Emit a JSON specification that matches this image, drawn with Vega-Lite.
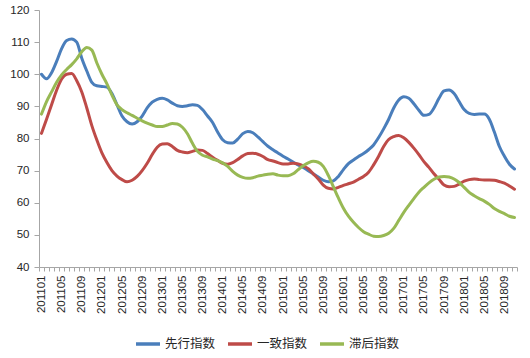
{
  "$schema": "https://vega.github.io/schema/vega-lite/v6.json",
  "width": 478,
  "height": 257,
  "autosize": {"type": "none"},
  "padding": {"left": 39, "top": 10, "right": 13, "bottom": 91},
  "background": "white",
  "data": {"values": [
    {"m":"201101","先行指数":100,"一致指数":81.6,"滞后指数":87.6},
    {"m":"201102","先行指数":98.6,"一致指数":86,"滞后指数":91.5},
    {"m":"201103","先行指数":100.5,"一致指数":90.5,"滞后指数":94.5},
    {"m":"201104","先行指数":104,"一致指数":95,"滞后指数":97.5},
    {"m":"201105","先行指数":108,"一致指数":98.5,"滞后指数":99.8},
    {"m":"201106","先行指数":110.5,"一致指数":100,"滞后指数":101.5},
    {"m":"201107","先行指数":111,"一致指数":100.2,"滞后指数":103},
    {"m":"201108","先行指数":110,"一致指数":98,"滞后指数":104.8},
    {"m":"201109","先行指数":105,"一致指数":94.5,"滞后指数":107},
    {"m":"201110","先行指数":101,"一致指数":89.5,"滞后指数":108.3},
    {"m":"201111","先行指数":97.5,"一致指数":84,"滞后指数":107.5},
    {"m":"201112","先行指数":96.4,"一致指数":79.5,"滞后指数":103.5},
    {"m":"201201","先行指数":96.2,"一致指数":75.5,"滞后指数":100},
    {"m":"201202","先行指数":96,"一致指数":72.5,"滞后指数":97},
    {"m":"201203","先行指数":94,"一致指数":70,"滞后指数":93.5},
    {"m":"201204","先行指数":90.5,"一致指数":68.3,"滞后指数":90.5},
    {"m":"201205","先行指数":87,"一致指数":67.2,"滞后指数":89},
    {"m":"201206","先行指数":85.2,"一致指数":66.5,"滞后指数":88},
    {"m":"201207","先行指数":84.5,"一致指数":67,"滞后指数":87.2},
    {"m":"201208","先行指数":85.2,"一致指数":68.2,"滞后指数":86.3},
    {"m":"201209","先行指数":87,"一致指数":70,"滞后指数":85.5},
    {"m":"201210","先行指数":89.5,"一致指数":72.3,"滞后指数":84.8},
    {"m":"201211","先行指数":91.3,"一致指数":75,"滞后指数":84.2},
    {"m":"201212","先行指数":92.2,"一致指数":77.3,"滞后指数":83.7},
    {"m":"201301","先行指数":92.5,"一致指数":78.3,"滞后指数":83.7},
    {"m":"201302","先行指数":92,"一致指数":78.4,"滞后指数":84.2},
    {"m":"201303","先行指数":91,"一致指数":77.5,"滞后指数":84.7},
    {"m":"201304","先行指数":90.2,"一致指数":76.3,"滞后指数":84.5},
    {"m":"201305","先行指数":90,"一致指数":75.8,"滞后指数":83.5},
    {"m":"201306","先行指数":90.2,"一致指数":75.6,"滞后指数":81.5},
    {"m":"201307","先行指数":90.5,"一致指数":76,"滞后指数":78.5},
    {"m":"201308","先行指数":90.3,"一致指数":76.4,"滞后指数":76},
    {"m":"201309","先行指数":89,"一致指数":76.3,"滞后指数":74.8},
    {"m":"201310","先行指数":87,"一致指数":75.3,"滞后指数":74.3},
    {"m":"201311","先行指数":85,"一致指数":74.2,"滞后指数":73.6},
    {"m":"201312","先行指数":82,"一致指数":73.2,"滞后指数":73.1},
    {"m":"201401","先行指数":79.6,"一致指数":72.3,"滞后指数":72.4},
    {"m":"201402","先行指数":78.7,"一致指数":72,"滞后指数":71.3},
    {"m":"201403","先行指数":78.6,"一致指数":72.5,"滞后指数":69.8},
    {"m":"201404","先行指数":79.8,"一致指数":73.5,"滞后指数":68.6},
    {"m":"201405","先行指数":81.5,"一致指数":74.6,"滞后指数":67.9},
    {"m":"201406","先行指数":82.2,"一致指数":75.3,"滞后指数":67.6},
    {"m":"201407","先行指数":81.8,"一致指数":75.4,"滞后指数":67.8},
    {"m":"201408","先行指数":80.5,"一致指数":75.1,"滞后指数":68.3},
    {"m":"201409","先行指数":79,"一致指数":74.4,"滞后指数":68.6},
    {"m":"201410","先行指数":77.6,"一致指数":73.4,"滞后指数":68.9},
    {"m":"201411","先行指数":76.5,"一致指数":73,"滞后指数":69},
    {"m":"201412","先行指数":75.5,"一致指数":72.5,"滞后指数":68.6},
    {"m":"201501","先行指数":74.5,"一致指数":72.1,"滞后指数":68.4},
    {"m":"201502","先行指数":73.6,"一致指数":72.1,"滞后指数":68.4},
    {"m":"201503","先行指数":72.7,"一致指数":72.3,"滞后指数":69},
    {"m":"201504","先行指数":71.8,"一致指数":72.1,"滞后指数":70.3},
    {"m":"201505","先行指数":71,"一致指数":71.5,"滞后指数":71.5},
    {"m":"201506","先行指数":70,"一致指数":70.6,"滞后指数":72.4},
    {"m":"201507","先行指数":69,"一致指数":69,"滞后指数":72.9},
    {"m":"201508","先行指数":68,"一致指数":67.4,"滞后指数":72.6},
    {"m":"201509","先行指数":67,"一致指数":65.5,"滞后指数":71.3},
    {"m":"201510","先行指数":66.5,"一致指数":64.5,"滞后指数":68.5},
    {"m":"201511","先行指数":66.8,"一致指数":64.3,"滞后指数":65},
    {"m":"201512","先行指数":68.2,"一致指数":64.8,"滞后指数":61.5},
    {"m":"201601","先行指数":70.3,"一致指数":65.4,"滞后指数":58.3},
    {"m":"201602","先行指数":72.2,"一致指数":65.9,"滞后指数":55.8},
    {"m":"201603","先行指数":73.3,"一致指数":66.4,"滞后指数":53.9},
    {"m":"201604","先行指数":74.4,"一致指数":67.3,"滞后指数":52.3},
    {"m":"201605","先行指数":75.3,"一致指数":68.2,"滞后指数":51},
    {"m":"201606","先行指数":76.5,"一致指数":69.5,"滞后指数":50.2},
    {"m":"201607","先行指数":78,"一致指数":71.8,"滞后指数":49.6},
    {"m":"201608","先行指数":80.3,"一致指数":74.5,"滞后指数":49.5},
    {"m":"201609","先行指数":83,"一致指数":77.5,"滞后指数":49.8},
    {"m":"201610","先行指数":86,"一致指数":79.7,"滞后指数":50.5},
    {"m":"201611","先行指数":89.5,"一致指数":80.6,"滞后指数":52},
    {"m":"201612","先行指数":92,"一致指数":80.9,"滞后指数":54.5},
    {"m":"201701","先行指数":93,"一致指数":80.2,"滞后指数":57},
    {"m":"201702","先行指数":92.5,"一致指数":78.8,"滞后指数":59.2},
    {"m":"201703","先行指数":90.8,"一致指数":77,"滞后指数":61.3},
    {"m":"201704","先行指数":88.8,"一致指数":75,"滞后指数":63.3},
    {"m":"201705","先行指数":87.2,"一致指数":72.8,"滞后指数":64.8},
    {"m":"201706","先行指数":87.5,"一致指数":71,"滞后指数":66.2},
    {"m":"201707","先行指数":89.5,"一致指数":69,"滞后指数":67.3},
    {"m":"201708","先行指数":92.5,"一致指数":67.3,"滞后指数":68},
    {"m":"201709","先行指数":94.8,"一致指数":65.5,"滞后指数":68.2},
    {"m":"201710","先行指数":95.1,"一致指数":65,"滞后指数":68},
    {"m":"201711","先行指数":94,"一致指数":65.1,"滞后指数":67.4},
    {"m":"201712","先行指数":91.5,"一致指数":65.8,"滞后指数":66.3},
    {"m":"201801","先行指数":89,"一致指数":66.7,"滞后指数":64.8},
    {"m":"201802","先行指数":87.8,"一致指数":67.2,"滞后指数":63.2},
    {"m":"201803","先行指数":87.5,"一致指数":67.4,"滞后指数":62.2},
    {"m":"201804","先行指数":87.6,"一致指数":67.2,"滞后指数":61.3},
    {"m":"201805","先行指数":87.6,"一致指数":67.1,"滞后指数":60.5},
    {"m":"201806","先行指数":86,"一致指数":67.1,"滞后指数":59.5},
    {"m":"201807","先行指数":82,"一致指数":67,"滞后指数":58.2},
    {"m":"201808","先行指数":77.5,"一致指数":66.6,"滞后指数":57.3},
    {"m":"201809","先行指数":74.5,"一致指数":66.1,"滞后指数":56.6},
    {"m":"201810","先行指数":72,"一致指数":65.2,"滞后指数":55.8},
    {"m":"201811","先行指数":70.5,"一致指数":64.2,"滞后指数":55.4}
  ]},
  "transform": [
    {"fold": ["先行指数", "一致指数", "滞后指数"], "as": ["series", "value"]}
  ],
  "mark": {"type": "line", "interpolate": "monotone", "strokeWidth": 3, "strokeCap": "round", "strokeJoin": "round"},
  "encoding": {
    "x": {
      "field": "m", "type": "ordinal", "bandPosition": 0.5,
      "scale": {"type": "band", "paddingInner": 0, "paddingOuter": 0},
      "axis": {
        "title": null,
        "labelAngle": -90,
        "labelExpr": "(toNumber(substring(datum.value, 4, 6)) - 1) % 4 == 0 ? datum.value : ''",
        "labelOverlap": false,
        "labelBound": false,
        "tickBand": "extent",
        "tickSize": 4,
        "labelPadding": 4,
        "tickColor": "#A6A6A6",
        "domainColor": "#A6A6A6",
        "labelFont": "Liberation Sans",
        "labelFontSize": 11.5,
        "labelColor": "#262626",
        "grid": false
      }
    },
    "y": {
      "field": "value", "type": "quantitative",
      "scale": {"domain": [40, 120], "nice": false, "zero": false},
      "axis": {
        "title": null,
        "values": [40, 50, 60, 70, 80, 90, 100, 110, 120],
        "tickSize": 5,
        "labelPadding": 5,
        "tickColor": "#A6A6A6",
        "domainColor": "#A6A6A6",
        "labelFont": "Liberation Sans",
        "labelFontSize": 11.5,
        "labelColor": "#262626",
        "grid": false
      }
    },
    "color": {
      "field": "series", "type": "nominal",
      "scale": {"domain": ["先行指数", "一致指数", "滞后指数"], "range": ["#4A7EBB", "#BE4B48", "#98B954"]},
      "legend": {
        "title": null,
        "orient": "none",
        "direction": "horizontal",
        "legendX": 95,
        "legendY": 320,
        "symbolType": "stroke",
        "symbolSize": 576,
        "symbolStrokeWidth": 3.5,
        "labelFont": "Noto Sans CJK SC",
        "labelFontSize": 12.5,
        "labelColor": "#262626",
        "labelOffset": 3,
        "columnPadding": 5
      }
    }
  },
  "config": {"view": {"stroke": null}}
}
